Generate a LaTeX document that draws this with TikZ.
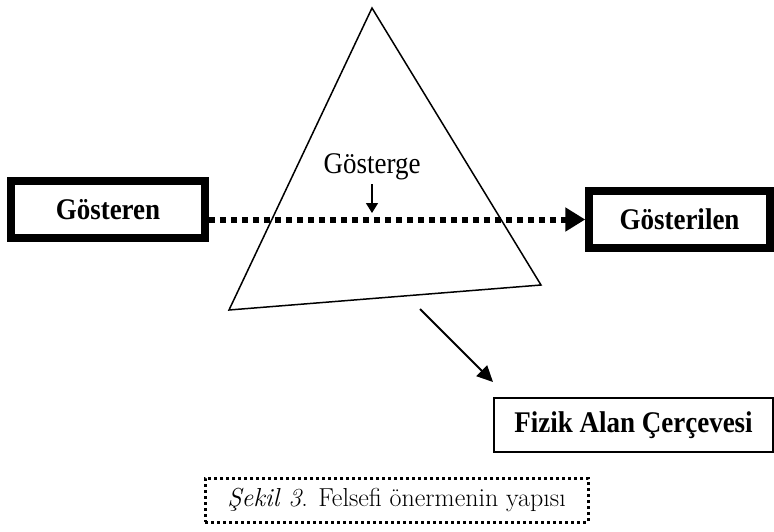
\documentclass[tikz,border=0pt]{standalone}
\usepackage{fontspec}
\usetikzlibrary{arrows.meta, positioning}
\newfontfamily\timesfont[FakeStretch=0.9]{Liberation Serif}

\begin{document}
\begin{tikzpicture}[
    x=1pt, y=-1pt,
    label/.style={font=\timesfont\bfseries\fontsize{30}{34}\selectfont, inner sep=0pt},
    heavybox/.style={rectangle, draw=black, line width=7.5pt, label},
    thinbox/.style={rectangle, draw=black, line width=2pt, label},
    captionbox/.style={rectangle, draw=black, line width=3pt, dash pattern=on 3pt off 3pt,
        font=\fontsize{26}{30}\selectfont, inner sep=0pt},
    signarrow/.style={line width=6pt, dash pattern=on 6pt off 5pt, -{Triangle[length=20pt, width=23pt]}},
    smallarrow/.style={line width=1.5pt, -{Triangle[length=10pt, width=12pt]}},
    arrow/.style={line width=2pt, -{Triangle[length=16pt, width=15pt]}}
]
\useasboundingbox (0,0) rectangle (774,531);

% Sign triangle
\coordinate (apex) at (372,8);
\coordinate (bleft) at (229,310);
\coordinate (bright) at (541,285);
\draw[line width=1.5pt, line join=miter] (apex) -- (bleft) -- (bright) -- cycle;

% Boxes
\node[heavybox, minimum width=194, minimum height=57] (gosteren) at (108,209.5) {Gösteren};
\node[heavybox, minimum width=181, minimum height=57] (gosterilen) at (679.5,219.5) {Gösterilen};
\node[thinbox, minimum width=279, minimum height=54] (fizik) at (633.5,425) {Fizik Alan Çerçevesi};
\node[font=\timesfont\fontsize{30}{34}\selectfont, inner sep=0pt] (gosterge) at (372,167) {Gösterge};
\node[captionbox, minimum width=383, minimum height=44] (caption) at (396.5,500) {\textit{Şekil 3}. Felsefi önermenin yapısı};

% Arrows
\coordinate (signpoint) at (372,213);
\coordinate (fieldstart) at (420,309);
\coordinate (fieldend) at (493,382);
\draw[signarrow] (gosteren.east |- gosterilen.west) -- (gosterilen.west);
\draw[smallarrow] ([yshift=-4pt]gosterge.south) -- (signpoint);
\draw[arrow] (fieldstart) -- (fieldend);

\end{tikzpicture}
\end{document}
